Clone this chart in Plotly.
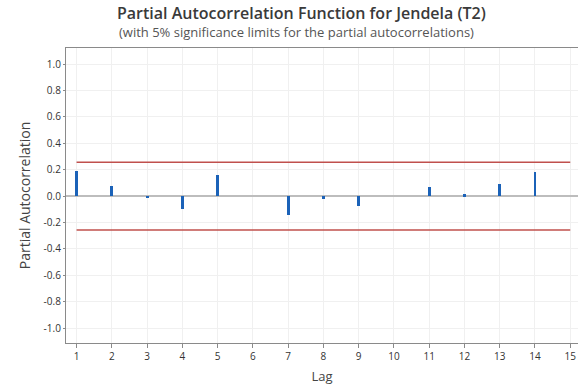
import plotly.graph_objects as go

lags = list(range(1, 16))
pacf = [0.19, 0.076, -0.015, -0.10, 0.157, 0.0, -0.146, -0.02, -0.078, 0.0, 0.068, 0.015, 0.094, 0.18]
lag_vals = lags[:len(pacf)]
upper_limit = 0.257
lower_limit = -0.257
y_ticks = [1.0, 0.8, 0.6, 0.4, 0.2, 0.0, -0.2, -0.4, -0.6, -0.8, -1.0]

FONT = "Open Sans"

fig = go.Figure()
fig.add_trace(go.Bar(x=lag_vals, y=pacf, width=0.08,
                     marker=dict(color="#1b62b8", line=dict(width=0)),
                     showlegend=False, hoverinfo="x+y"))
fig.add_trace(go.Scatter(x=[lags[0], lags[-1]], y=[upper_limit, upper_limit], mode="lines",
                         line=dict(color="#c0504d", width=1.5), showlegend=False))
fig.add_trace(go.Scatter(x=[lags[0], lags[-1]], y=[lower_limit, lower_limit], mode="lines",
                         line=dict(color="#c0504d", width=1.5), showlegend=False))

fig.update_layout(
    width=578, height=385,
    margin=dict(l=66, r=0, t=48, b=42),
    paper_bgcolor="white", plot_bgcolor="white",
    font=dict(family=FONT, color="#333333"),
    bargap=0,
)
fig.add_annotation(text="Partial Autocorrelation Function for Jendela (T2)",
                   xref="paper", yref="paper", x=(301 - 66) / 512, y=1 + (48 - 13) / 295,
                   showarrow=False, font=dict(size=16, color="#3a3a3a", family=FONT, weight=600),
                   xanchor="center", yanchor="middle")
fig.add_annotation(text="(with 5% significance limits for the partial autocorrelations)",
                   xref="paper", yref="paper", x=(296 - 66) / 512, y=1 + (48 - 32) / 295,
                   showarrow=False, font=dict(size=13, color="#555555", family=FONT),
                   xanchor="center", yanchor="middle")

fig.update_xaxes(range=[0.7, 15.22], tickmode="array", tickvals=lags,
                 ticktext=[str(v) for v in lags],
                 showgrid=True, gridcolor="#f0f0f0", gridwidth=1,
                 showline=True, linecolor="#8a8a8a", linewidth=1.2, mirror=True,
                 ticks="outside", ticklen=4, tickcolor="#8a8a8a",
                 tickfont=dict(size=10, color="#333333"),
                 title=dict(text="Lag", font=dict(size=13, color="#444444"), standoff=10),
                 zeroline=False)
fig.update_yaxes(range=[-1.113, 1.122], tickmode="array", tickvals=y_ticks,
                 ticktext=[f"{v:.1f}" for v in y_ticks],
                 showgrid=True, gridcolor="#f0f0f0", gridwidth=1,
                 showline=True, linecolor="#8a8a8a", linewidth=1.2, mirror=False,
                 ticks="outside", ticklen=2, tickcolor="#8a8a8a",
                 tickfont=dict(size=10, color="#333333"),
                 title=dict(text="Partial Autocorrelation", font=dict(size=14, color="#444444"), standoff=9),
                 zeroline=True, zerolinecolor="#bdbdbd", zerolinewidth=2)

fig.write_html("out.html")
